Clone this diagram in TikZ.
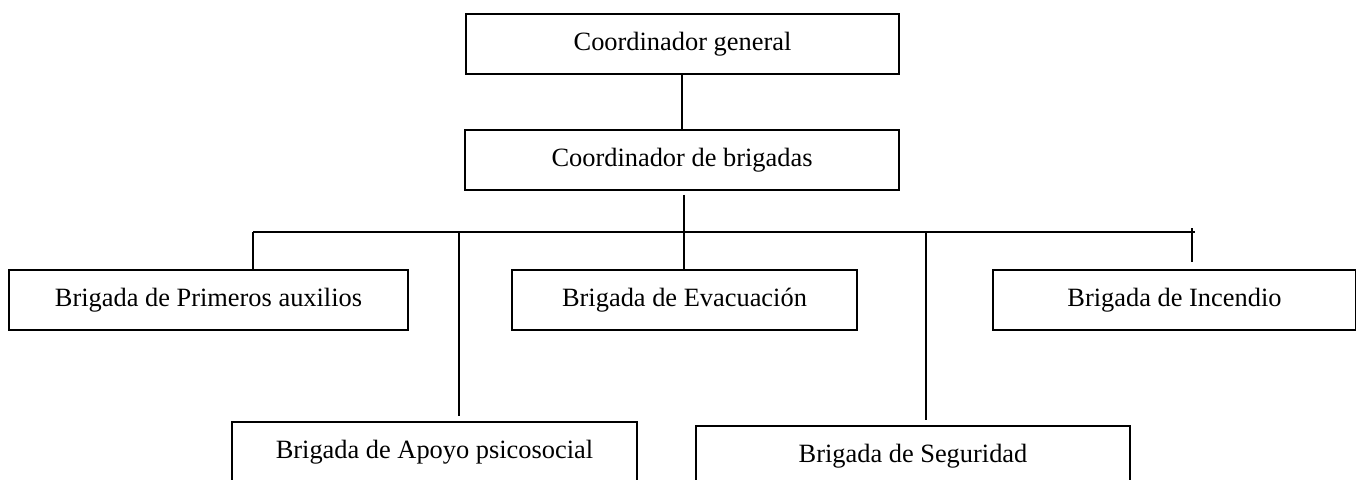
\documentclass[tikz,border=0pt]{standalone}
\usepackage{fontspec}
\setmainfont{Liberation Serif}
\usetikzlibrary{positioning, calc}

\begin{document}
\begin{tikzpicture}[x=0.75pt, y=-0.75pt, line width=1.4pt,
  box/.style={draw, inner sep=0pt, minimum height=45pt, font=\fontsize{19.8}{22}\selectfont}]
		\useasboundingbox (0,0) rectangle (1356,479);
		\clip (0,0) rectangle (1356,479);

		\node[box, minimum width=325pt] (gen) at (682.5,44) {Coordinador general};
		\node[box, minimum width=325.5pt] (brig) at (682,160) {Coordinador de brigadas};

		\node[box, minimum width=299.25pt] (prim) at (208.5,300) {Brigada de Primeros auxilios};
		\node[box, minimum width=258.75pt] (evac) at (684.5,300) {Brigada de Evacuación};
		\node[box, minimum width=272.25pt] (inc) at (1174.5,300) {Brigada de Incendio};
		\node[box, minimum width=303.75pt] (apoyo) at (434.5,452) {Brigada de Apoyo psicosocial};
		\node[box, minimum width=325.5pt] (seg) at (913,456) {Brigada de Seguridad};

		\coordinate (bl) at (253,232);
		\coordinate (br) at (1195,232);
		\coordinate (b1) at (253,232);
		\coordinate (b2) at (459,232);
		\coordinate (b3) at (684,232);
		\coordinate (b4) at (926,232);
		\coordinate (b5) at (1192,228);

		\draw (brig.north) -- (brig.north |- gen.south);
		\draw[shorten <=3pt] (brig.south -| b3) -- (b3);
		\draw (bl) -- (br);
		\draw (b1) -- (b1 |- prim.north);
		\draw[shorten >=4pt] (b2) -- (b2 |- apoyo.north);
		\draw (b3) -- (b3 |- evac.north);
		\draw[shorten >=4pt] (b4) -- (b4 |- seg.north);
		\draw[shorten >=5pt] (b5) -- (b5 |- inc.north);
\end{tikzpicture}
\end{document}
